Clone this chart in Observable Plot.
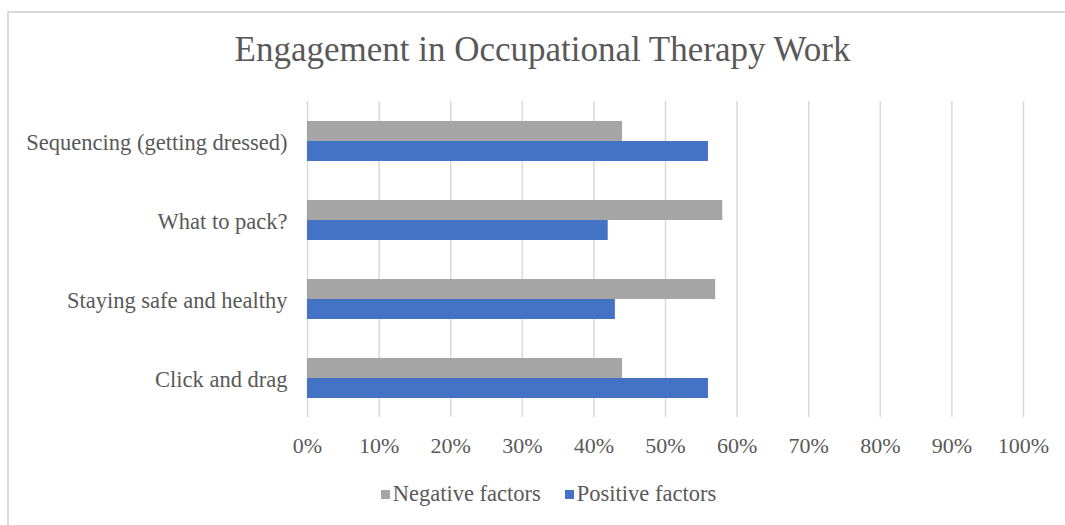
<!DOCTYPE html>
<html>
<head>
<meta charset="utf-8">
<script src="https://cdn.jsdelivr.net/npm/d3@7"></script>
<script src="https://cdn.jsdelivr.net/npm/@observablehq/plot@0.6"></script>
<style>
  html, body { margin: 0; padding: 0; background: #fff; }
  #chart { position: relative; width: 1065px; height: 525px; overflow: hidden; font-family: "Liberation Serif", "DejaVu Serif", serif; color: #595959; }
  #frame { position: absolute; left: 7px; top: 11px; width: 1100px; height: 600px; border-left: 2px solid #d9d9d9; border-top: 2px solid #d9d9d9; box-sizing: border-box; }
  #title { position: absolute; left: 0; width: 1085px; top: 28px; text-align: center; font-size: 35px; line-height: 44px; color: #595959; }
  #plot { position: absolute; left: 0; top: 100px; }
  #legend { position: absolute; left: 0; width: 1097px; top: 481px; text-align: center; font-size: 22.5px; line-height: 26px; color: #595959; }
  .sw { display: inline-block; width: 9px; height: 9px; margin-right: 3px; vertical-align: 2px; }
  .item { margin: 0 12px; }
</style>
</head>
<body>
<div id="chart">
  <div id="frame"></div>
  <div id="title">Engagement in Occupational Therapy Work</div>
  <div id="plot"></div>
  <div id="legend"></div>
</div>
<script>
const categories = ["Sequencing (getting dressed)", "What to pack?", "Staying safe and healthy", "Click and drag"];
const seriesNames = ["Negative factors", "Positive factors"];
const negativeValues = [0.44, 0.58, 0.57, 0.44];
const positiveValues = [0.56, 0.42, 0.43, 0.56];
const seriesColors = ["#A5A5A5", "#4472C4"];
const xTicks = [0, 0.1, 0.2, 0.3, 0.4, 0.5, 0.6, 0.7, 0.8, 0.9, 1.0];

const data = [];
categories.forEach((c, i) => {
  data.push({category: c, series: seriesNames[0], value: negativeValues[i]});
  data.push({category: c, series: seriesNames[1], value: positiveValues[i]});
});

const pct = d => Math.round(d * 100) + "%";

const plot = Plot.plot({
  width: 1065,
  height: 360,
  marginLeft: 307,
  marginRight: 42,
  marginTop: 0,
  marginBottom: 42,
  style: {fontFamily: '"Liberation Serif", serif', fontSize: "22px", color: "#595959", background: "transparent"},
  x: {domain: [0, 1], label: null},
  fy: {domain: categories, padding: 0, label: null},
  y: {domain: seriesNames, axis: null, paddingInner: 0, paddingOuter: 0.94},
  color: {domain: seriesNames, range: seriesColors},
  marks: [
    Plot.gridX(xTicks, {stroke: "#d9d9d9", strokeOpacity: 1, strokeWidth: 1.5}),
    Plot.barX(data, {x: "value", y: "series", fy: "category", fill: "series"}),
    Plot.axisX({ticks: xTicks, tickFormat: pct, tickSize: 0, tickPadding: 20, label: null, anchor: "bottom", facetAnchor: "bottom", fontSize: 22}),
    Plot.axisFy({anchor: "left", tickSize: 0, tickPadding: 20, label: null, fontSize: 22.5, dy: 2})
  ]
});
document.getElementById("plot").appendChild(plot);

const legend = document.getElementById("legend");
seriesNames.forEach((s, i) => {
  const span = document.createElement("span");
  span.className = "item";
  span.innerHTML = `<span class="sw" style="background:${seriesColors[i]}"></span>${s}`;
  legend.appendChild(span);
});
</script>
</body>
</html>
